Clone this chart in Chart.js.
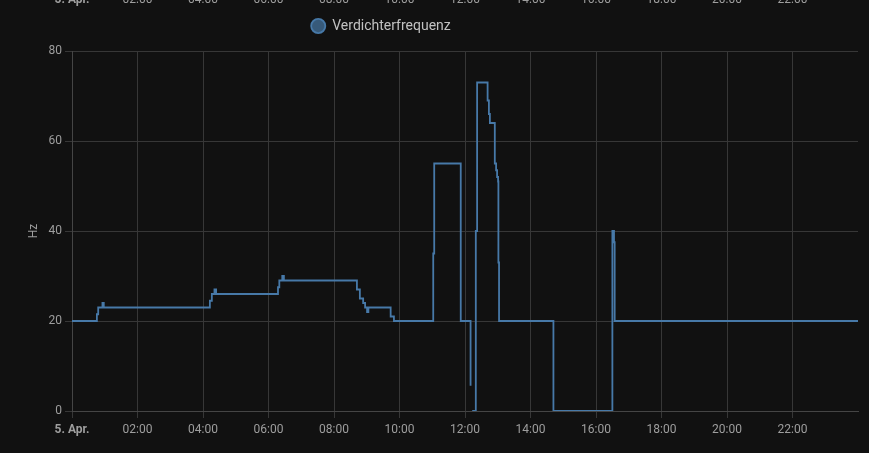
<!DOCTYPE html>
<html>
<head>
<meta charset="utf-8">
<script src="https://cdn.jsdelivr.net/npm/chart.js@4/dist/chart.umd.min.js"></script>
<style>
  html, body { margin: 0; padding: 0; background: #111111; }
  #wrap { position: relative; width: 869px; height: 453px; }
</style>
</head>
<body>
<div id="wrap"><canvas id="freqChart"></canvas></div>
<script>
// hours since midnight (5. Apr.) where the state changes, and the new value in Hz
const hours = [0, 0.76, 0.80, 0.93, 0.97, 4.21, 4.27, 4.35, 4.40, 6.29, 6.33, 6.42, 6.47,
  8.70, 8.79, 8.89, 8.95, 9.01, 9.05, 9.73, 9.83, 11.03, 11.06, 11.87, 12.17, 12.19,
  12.22, 12.33, 12.37, 12.69, 12.73, 12.76, 12.91, 12.95, 12.98, 13.01, 13.02, 13.04,
  14.70, 16.50, 16.55, 16.57, 24];
const hz = [20, 21.5, 23, 24, 23, 24.5, 26, 27, 26, 27.5, 29, 30, 29,
  27, 25, 24, 23, 22, 23, 21, 20, 35, 55, 20, 5.6, null,
  0, 40, 73, 69, 66, 64, 55, 53.5, 52, 51, 33, 20,
  0, 40, 37.5, 20, 20];
const tickHours = [0, 2, 4, 6, 8, 10, 12, 14, 16, 18, 20, 22];
const tickLabels = ['5. Apr.', '02:00', '04:00', '06:00', '08:00', '10:00', '12:00',
  '14:00', '16:00', '18:00', '20:00', '22:00'];
const seriesName = 'Verdichterfrequenz';

const points = hours.map((h, i) => ({ x: h, y: hz[i] }));

// the x labels of the chart above, cut off at the top edge
const cutLabels = {
  id: 'cutLabels',
  afterDraw(chart) {
    const ctx = chart.ctx;
    const xs = chart.scales.x;
    ctx.save();
    ctx.fillStyle = '#9e9e9e';
    ctx.textAlign = 'center';
    ctx.textBaseline = 'alphabetic';
    tickHours.forEach((h, i) => {
      ctx.font = (i === 0 ? 'bold ' : '') + '12px Roboto';
      ctx.fillText(tickLabels[i], xs.getPixelForValue(h), 3);
    });
    ctx.restore();
  }
};

// legend sits a bit left of centre and higher up, like the original card
const legendShift = {
  id: 'legendShift',
  afterLayout(chart) {
    const lg = chart.legend;
    lg.left -= 59; lg.right -= 59;
    lg.top -= 8; lg.bottom -= 8;
  }
};

const ctx = document.getElementById('freqChart').getContext('2d');
new Chart(ctx, {
  type: 'line',
  data: {
    datasets: [{
      label: seriesName,
      data: points,
      stepped: true,
      borderColor: '#4779a8',
      backgroundColor: 'rgba(68, 115, 158, 0.75)',
      borderWidth: 1.8,
      pointRadius: 0,
      fill: false,
      spanGaps: false
    }]
  },
  plugins: [cutLabels, legendShift],
  options: {
    responsive: true,
    maintainAspectRatio: false,
    animation: false,
    layout: { padding: { top: 17, left: 22, right: 11, bottom: 12 } },
    scales: {
      x: {
        type: 'linear',
        min: 0,
        max: 24,
        afterBuildTicks: (scale) => {
          scale.ticks = tickHours.map(v => ({ value: v }));
        },
        afterFit: (scale) => { scale.height = 30; },
        ticks: {
          autoSkip: false,
          maxRotation: 0,
          color: '#9e9e9e',
          padding: 5,
          font: (c) => ({ family: 'Roboto', size: 12, weight: c.tick && c.tick.value === 0 ? 'bold' : 'normal' }),
          callback: (v) => tickLabels[tickHours.indexOf(v)]
        },
        grid: { color: '#373737', tickLength: 7 },
        border: { color: '#454545' }
      },
      y: {
        min: 0,
        max: 80,
        afterFit: (scale) => { scale.width = 50; },
        ticks: {
          stepSize: 20,
          color: '#9e9e9e',
          padding: 3,
          font: { family: 'Roboto', size: 12 }
        },
        title: {
          display: true,
          text: 'Hz',
          color: '#9e9e9e',
          font: { family: 'Roboto', size: 12 },
          padding: { top: 5, bottom: 0 }
        },
        grid: { color: '#373737', tickLength: 7 },
        border: { color: '#454545' }
      }
    },
    plugins: {
      legend: {
        display: true,
        position: 'top',
        labels: {
          usePointStyle: true,
          pointStyle: 'circle',
          boxWidth: 15,
          boxHeight: 10,
          color: '#c2c2c2',
          font: { family: 'Roboto', size: 14 },
          padding: 10
        }
      },
      tooltip: { enabled: false }
    }
  }
});
</script>
</body>
</html>
